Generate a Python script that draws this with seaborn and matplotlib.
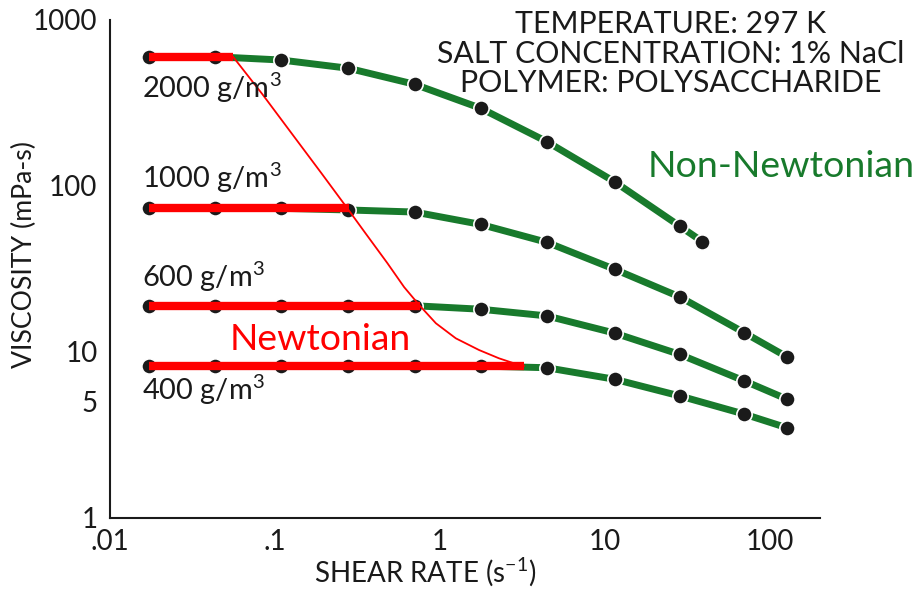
import matplotlib
matplotlib.use("Agg")
import matplotlib.pyplot as plt
import seaborn as sns

# ---------------- data ----------------
shear = [0.0172, 0.043, 0.109, 0.278, 0.70, 1.76, 4.43, 11.4, 28.2, 69.3, 125.6]
shear_2000 = [0.0172, 0.043, 0.109, 0.278, 0.70, 1.76, 4.43, 11.4, 28.2, 38.8]

visc_2000 = [601, 601, 574, 512, 410, 294, 185, 106, 57.4, 46.2]
visc_1000 = [73.4, 73.4, 73.4, 71.7, 69.7, 58.7, 45.8, 31.5, 21.5, 13.1, 9.37]
visc_600 = [19.0, 19.0, 19.0, 19.0, 19.0, 18.1, 16.5, 13.0, 9.68, 6.71, 5.21]
visc_400 = [8.23, 8.23, 8.23, 8.23, 8.23, 8.23, 8.04, 6.85, 5.44, 4.23, 3.50]

series_labels = ["2000 g/m$^{3}$", "1000 g/m$^{3}$", "600 g/m$^{3}$", "400 g/m$^{3}$"]

# Newtonian plateau segments: start shear, end shear, plateau viscosity
newt_start = [0.0172, 0.0172, 0.0172, 0.0172]
newt_end = [0.0556, 0.28, 0.76, 3.22]
newt_visc = [601, 73.4, 19.0, 8.23]

# boundary curve between Newtonian / non-Newtonian regions
curve_x = [0.0556, 0.0840, 0.1276, 0.191, 0.274, 0.352, 0.478, 0.605, 0.746,
           0.942, 1.244, 1.72, 2.273, 2.80, 3.22]
curve_y = [601, 356, 204, 119.3, 73.4, 52.1, 34.4, 24.6, 19.2,
           14.9, 12.09, 10.28, 9.16, 8.55, 8.23]

xticks = [0.01, 0.05, 0.1, 0.5, 1, 5, 10, 50, 100, 200]
xticklabels = [".01", "", ".1", "", "1", "", "10", "", "100", ""]
yticks = [1, 5, 10, 50, 100, 500, 1000]
yticklabels = ["1", "5", "10", "", "100", "", "1000"]

header = ["TEMPERATURE: 297 K", "SALT CONCENTRATION: 1% NaCl", "POLYMER: POLYSACCHARIDE"]

# ---------------- style ----------------
sns.set_theme(style="white")
plt.rcParams["font.family"] = ["Lato", "DejaVu Sans"]
plt.rcParams["mathtext.fontset"] = "custom"
plt.rcParams["mathtext.rm"] = "Lato"
plt.rcParams["mathtext.it"] = "Lato"
plt.rcParams["mathtext.default"] = "rm"
plt.rcParams["text.color"] = "#1a1a1a"

GREEN = "#187a2c"
RED = "#ff0000"
INK = "#1a1a1a"

fig = plt.figure(figsize=(9.19, 5.90), dpi=100)
ax = fig.add_axes([110 / 919, 1 - 518 / 590, 710 / 919, 498 / 590])
renderer = fig.canvas.get_renderer()


def fit_size(txt_artist, target_px, vertical=False):
    """Rescale a text's font size so its extent matches a target pixel size."""
    bb = txt_artist.get_window_extent(renderer=renderer)
    cur = bb.height if vertical else bb.width
    txt_artist.set_fontsize(txt_artist.get_fontsize() * target_px / cur)
    return txt_artist.get_fontsize()


all_x = [shear_2000, shear, shear, shear]
all_y = [visc_2000, visc_1000, visc_600, visc_400]

for xs, ys in zip(all_x, all_y):
    sns.lineplot(x=xs, y=ys, ax=ax, color=GREEN, lw=5, sort=False,
                 estimator=None, zorder=2)
    sns.lineplot(x=xs, y=ys, ax=ax, color=INK, lw=0, marker="o",
                 markersize=11, markeredgecolor="white", markeredgewidth=1.2,
                 sort=False, estimator=None, zorder=3)

for xs, xe, v in zip(newt_start, newt_end, newt_visc):
    sns.lineplot(x=[xs, xe], y=[v, v], ax=ax, color=RED, lw=6,
                 sort=False, estimator=None, zorder=4,
                 solid_capstyle="butt")

sns.lineplot(x=curve_x, y=curve_y, ax=ax, color=RED, lw=1.3, sort=False,
             estimator=None, zorder=5)

ax.set_xscale("log")
ax.set_yscale("log")
ax.set_xlim(0.01, 200)
ax.set_ylim(1, 1000)
ax.set_xticks(xticks)
ax.set_xticklabels(xticklabels)
ax.set_yticks(yticks)
ax.set_yticklabels(yticklabels)
ax.minorticks_off()
ax.tick_params(axis="both", direction="in", length=8, width=1.5,
               color=INK, labelsize=20, labelcolor=INK)
ax.tick_params(axis="y", pad=9)
ax.tick_params(axis="x", pad=8)
for s in ["top", "right"]:
    ax.spines[s].set_visible(False)
for s in ["left", "bottom"]:
    ax.spines[s].set_linewidth(1.5)
    ax.spines[s].set_color(INK)
ax.grid(False)

ax.set_xlabel("SHEAR RATE (s$^{-1}$)", fontsize=20, color=INK)
ax.set_ylabel("VISCOSITY (mPa-s)", fontsize=18, color=INK)
ax.xaxis.set_label_coords((425 - 110) / 710, -(588 - 518) / 498)
ax.xaxis.label.set_va("bottom")
ax.yaxis.set_label_coords(-(110 - 37) / 710, (518 - 255) / 498)
fit_size(ax.yaxis.label, 226, vertical=True)

# series labels (placed in figure pixel positions)
label_base = [98, 188, 287, 400]
lab_artists = []
for txt, yb in zip(series_labels, label_base):
    lab_artists.append(fig.text(142 / 919, 1 - yb / 590, txt, fontsize=20,
                                color=INK, ha="left", va="baseline"))
fs = fit_size(lab_artists[0], 140)
for t in lab_artists:
    t.set_fontsize(fs)

# header block
head_artists = []
for txt, yb in zip(header, [33, 63, 92]):
    head_artists.append(fig.text(671 / 919, 1 - yb / 590, txt, fontsize=20,
                                 color=INK, ha="center", va="baseline"))
fs = fit_size(head_artists[1], 466)
for t in head_artists:
    t.set_fontsize(fs)

nn = fig.text(648 / 919, 1 - 177 / 590, "Non-Newtonian", fontsize=27,
              color=GREEN, ha="left", va="baseline")
fit_size(nn, 267)
nw = fig.text(230 / 919, 1 - 350 / 590, "Newtonian", fontsize=25,
              color=RED, ha="left", va="baseline")
fit_size(nw, 182)

fig.savefig("out.png", dpi=100, facecolor="white")
